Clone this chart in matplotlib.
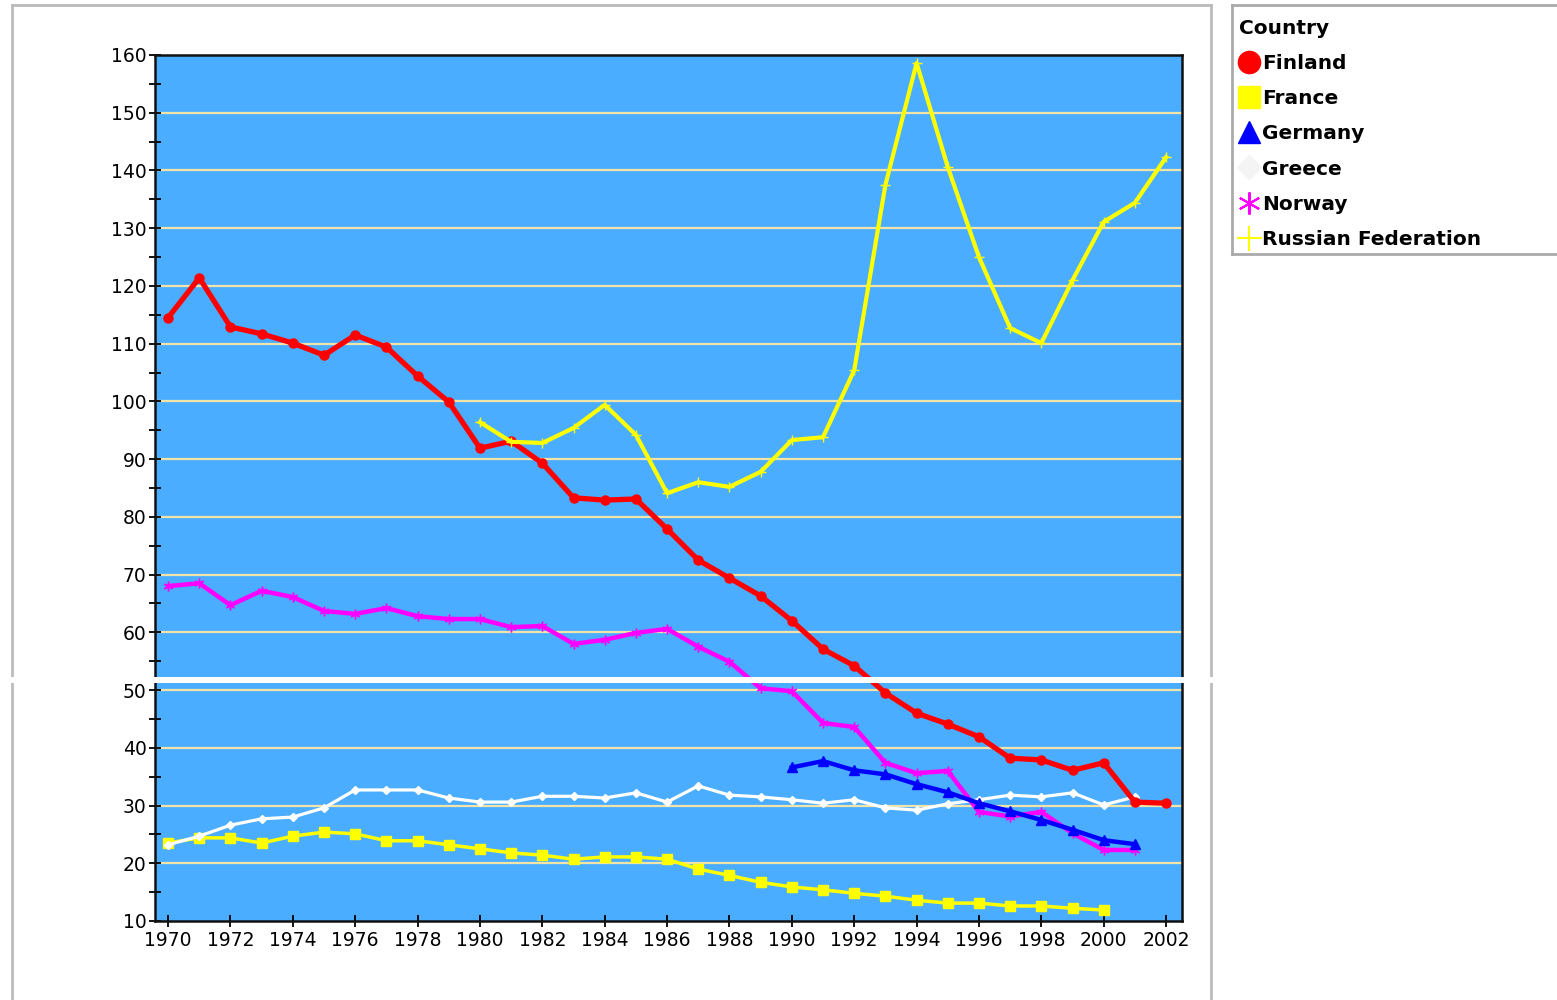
import matplotlib
matplotlib.use("Agg")
import matplotlib.pyplot as plt
from matplotlib.lines import Line2D
from matplotlib.patches import Rectangle

# data
years = list(range(1970, 2003))

finland = [114.5, 121.4, 112.9, 111.7, 110.1, 108.0, 111.5, 109.4, 104.4, 99.9,
           91.9, 93.1, 89.3, 83.3, 82.9, 83.1, 77.9, 72.5, 69.4, 66.3,
           62.0, 57.1, 54.2, 49.5, 46.0, 44.1, 41.9, 38.2, 37.9, 36.1,
           37.4, 30.6, 30.4]

france = [23.5, 24.4, 24.4, 23.5, 24.7, 25.4, 25.1, 23.9, 23.9, 23.2,
          22.5, 21.8, 21.4, 20.7, 21.1, 21.1, 20.7, 19.0, 17.9, 16.7,
          15.9, 15.4, 14.8, 14.3, 13.6, 13.1, 13.1, 12.6, 12.6, 12.2,
          11.9]

germany_years = list(range(1990, 2002))
germany = [36.6, 37.7, 36.1, 35.4, 33.7, 32.3, 30.4, 29.0, 27.5, 25.8, 24.0, 23.3]

greece = [23.2, 24.7, 26.6, 27.7, 28.0, 29.6, 32.7, 32.7, 32.7, 31.3,
          30.6, 30.6, 31.6, 31.6, 31.3, 32.2, 30.6, 33.4, 31.8, 31.5,
          31.0, 30.4, 31.0, 29.6, 29.2, 30.3, 31.0, 31.8, 31.5, 32.2,
          30.1, 31.5]

norway = [68.0, 68.5, 64.7, 67.2, 66.1, 63.7, 63.2, 64.2, 62.8, 62.3,
          62.3, 60.9, 61.1, 58.0, 58.7, 59.9, 60.6, 57.5, 54.9, 50.3,
          49.8, 44.3, 43.6, 37.4, 35.6, 36.0, 28.9, 28.1, 28.9, 25.2,
          22.3, 22.3]

russia_years = list(range(1980, 2003))
russia = [96.4, 93.0, 92.8, 95.4, 99.4, 94.2, 84.1, 86.0, 85.2, 87.8,
          93.3, 93.8, 105.4, 137.5, 158.6, 140.6, 125.0, 112.7, 110.1, 121.0,
          131.1, 134.4, 142.3]

country_names = ["Finland", "France", "Germany", "Greece", "Norway", "Russian Federation"]

fig = plt.figure(figsize=(15.57, 10.0), dpi=100)
ax = fig.add_axes([155 / 1557, 1 - 921 / 1000, (1182 - 155) / 1557, (921 - 55) / 1000])
ax.set_facecolor("#4badff")

# gridlines
for v in range(20, 160, 10):
    ax.axhline(v, color="#f0e4a8", lw=1.6, zorder=1)

asterisk = (6, 2, 0)
ax.plot(years[:len(france)], france, color="#ffff00", lw=2.5, marker="s", ms=7, zorder=3)
ax.plot(years[:len(greece)], greece, color="white", lw=2.3, marker="D", ms=4.5, zorder=3)
ax.plot(years[:len(norway)], norway, color="#ff00ff", lw=3.2, marker=asterisk, ms=7, mew=1.0, zorder=4)
ax.plot(germany_years, germany, color="#0000ff", lw=3.2, marker="^", ms=6.5, zorder=4)
ax.plot(years, finland, color="#ff0000", lw=3.8, marker="o", ms=6.5, zorder=5)
ax.plot(russia_years, russia, color="#ffff00", lw=3.0, marker="+", ms=7, mew=1.0, zorder=5)

ax.set_xlim(1969.58, 2002.51)
ax.set_ylim(10, 160)
ax.set_xticks(range(1970, 2003, 2))
ax.set_yticks(range(10, 161, 10))
ax.set_yticks(range(15, 160, 10), minor=True)
ax.tick_params(axis="both", direction="inout", length=8, width=1.3, labelsize=13.5, colors="black")
ax.tick_params(axis="y", which="minor", direction="inout", length=8, width=1.3)
ax.tick_params(axis="x", pad=3)
ax.tick_params(axis="y", pad=2)
for s in ax.spines.values():
    s.set_linewidth(1.8)
    s.set_color("#111111")

# outer frame of the page
fig.add_artist(Line2D([12 / 1557, 12 / 1557], [0, 1 - 5 / 1000], transform=fig.transFigure, color="#bbbbbb", lw=2))
fig.add_artist(Line2D([1211 / 1557, 1211 / 1557], [0, 1 - 5 / 1000], transform=fig.transFigure, color="#bbbbbb", lw=2))
fig.add_artist(Line2D([12 / 1557, 1211 / 1557], [1 - 5 / 1000, 1 - 5 / 1000], transform=fig.transFigure, color="#bbbbbb", lw=2))

# legend box
fig.add_artist(Line2D([1232 / 1557, 1232 / 1557], [1 - 254 / 1000, 1 - 5 / 1000], transform=fig.transFigure, color="#aaaaaa", lw=2))
fig.add_artist(Line2D([1232 / 1557, 1], [1 - 5 / 1000, 1 - 5 / 1000], transform=fig.transFigure, color="#aaaaaa", lw=2))
fig.add_artist(Line2D([1232 / 1557, 1], [1 - 254 / 1000, 1 - 254 / 1000], transform=fig.transFigure, color="#aaaaaa", lw=2))

handles = [
    Line2D([], [], ls="none", marker="o", color="#ff0000", ms=16),
    Line2D([], [], ls="none", marker="s", color="#ffff00", ms=16),
    Line2D([], [], ls="none", marker="^", color="#0000ff", ms=16),
    Line2D([], [], ls="none", marker="D", color="#f4f4f4", ms=12),
    Line2D([], [], ls="none", marker=asterisk, color="#ff00ff", ms=16, mew=1.5),
    Line2D([], [], ls="none", marker="+", color="#ffff00", ms=18, mew=1.5),
]
leg = fig.legend(handles, country_names, title="Country", loc="upper left",
                 bbox_to_anchor=(1225 / 1557, 1 - 5 / 1000), frameon=False,
                 prop={"weight": "bold", "size": 14.5}, title_fontproperties={"weight": "bold", "size": 14.5},
                 handlelength=1.0, handletextpad=0.15, labelspacing=0.8, borderpad=0.2)
leg._legend_box.align = "left"

# white seam across the picture
fig.add_artist(Rectangle((0, 1 - 683 / 1000), 1, 6 / 1000, transform=fig.transFigure,
                         facecolor="white", edgecolor="none", zorder=10))

fig.savefig("out.png", dpi=100)
